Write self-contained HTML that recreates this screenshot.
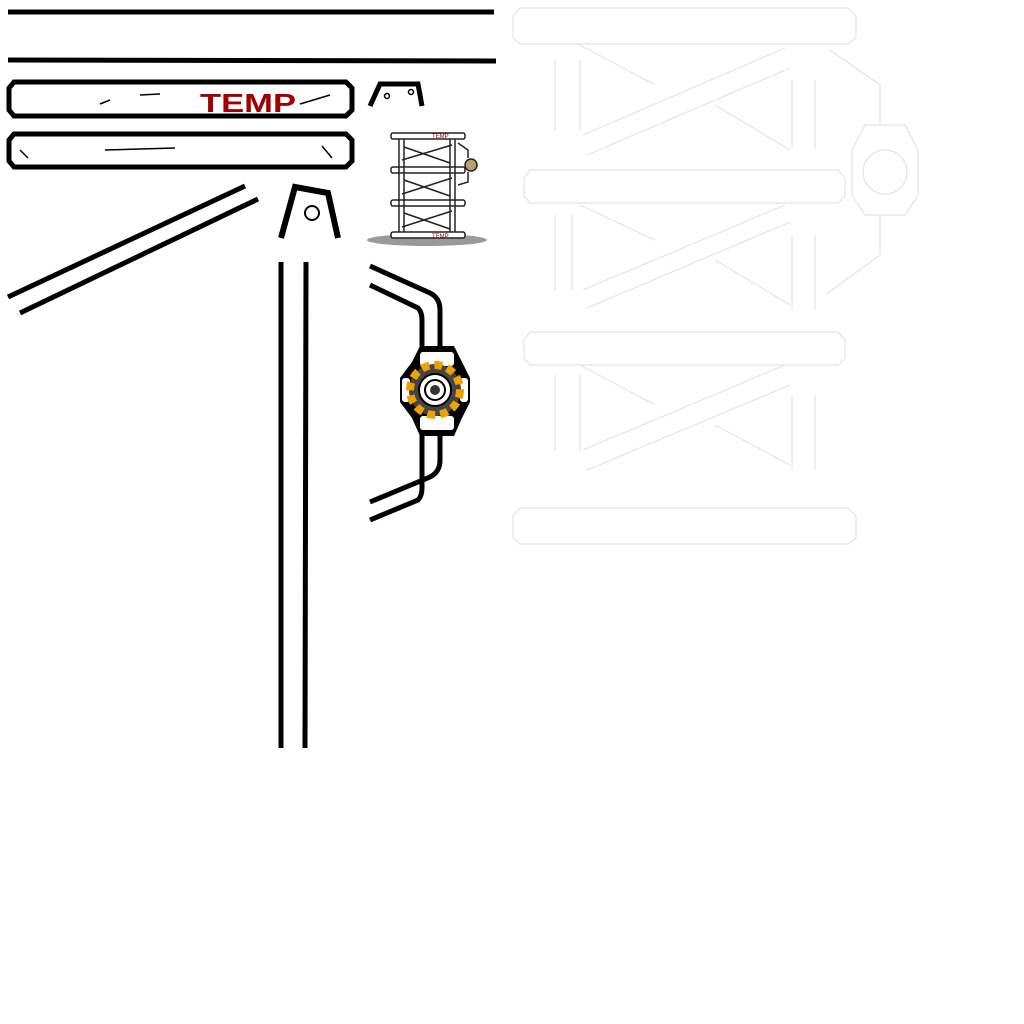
<!DOCTYPE html>
<html><head><style>html,body{margin:0;padding:0;background:#fff;width:1024px;height:1024px;overflow:hidden}</style></head>
<body>
<svg width="1024" height="1024" viewBox="0 0 1024 1024" xmlns="http://www.w3.org/2000/svg">
<rect width="1024" height="1024" fill="#fff"/>
<line x1="8" y1="12" x2="494" y2="12" stroke="#000" stroke-width="5"/>
<line x1="8" y1="60" x2="496" y2="61" stroke="#000" stroke-width="5"/>
<polygon points="14,82 346,82 352,88 352,110 346,116 14,116 9,110 9,88" fill="#fff" stroke="#000" stroke-width="5"/>
<line x1="100" y1="104" x2="110" y2="100" stroke="#000" stroke-width="1.5"/>
<line x1="140" y1="95" x2="160" y2="94" stroke="#000" stroke-width="1.5"/>
<line x1="300" y1="104" x2="330" y2="95" stroke="#000" stroke-width="1.5"/>
<text x="200" y="112" font-family="Liberation Sans, sans-serif" font-size="26" font-weight="bold" fill="#a00000" textLength="96" lengthAdjust="spacingAndGlyphs">TEMP</text>
<polygon points="14,134 346,134 352,140 352,161 346,167 14,167 9,161 9,140" fill="#fff" stroke="#000" stroke-width="5"/>
<line x1="105" y1="150" x2="175" y2="148" stroke="#000" stroke-width="1.5"/>
<line x1="20" y1="150" x2="28" y2="158" stroke="#000" stroke-width="1.5"/>
<line x1="322" y1="146" x2="332" y2="158" stroke="#000" stroke-width="1.5"/>
<path d="M370,106 L380,84 L418,84 L422,106" fill="none" stroke="#000" stroke-width="5"/>
<circle cx="387" cy="96" r="2.5" fill="none" stroke="#000" stroke-width="1.5"/>
<circle cx="411" cy="92" r="2.5" fill="none" stroke="#000" stroke-width="1.5"/>
<line x1="8" y1="297" x2="245" y2="186" stroke="#000" stroke-width="5"/>
<line x1="20" y1="313" x2="258" y2="199" stroke="#000" stroke-width="5"/>
<path d="M281,238 L295,187 L328,193 L338,238" fill="none" stroke="#000" stroke-width="6"/>
<circle cx="312" cy="213" r="7" fill="none" stroke="#000" stroke-width="2"/>
<line x1="281" y1="262" x2="281" y2="748" stroke="#000" stroke-width="5"/>
<line x1="306" y1="262" x2="305" y2="748" stroke="#000" stroke-width="5"/>
<path d="M370,266 L430,293 Q440,298 440,310 L440,350" fill="none" stroke="#000" stroke-width="5"/>
<path d="M370,285 L418,308 Q422,312 422,320 L422,350" fill="none" stroke="#000" stroke-width="5"/>
<path d="M370,502 L430,477 Q440,472 440,460 L440,430" fill="none" stroke="#000" stroke-width="5"/>
<path d="M370,520 L418,500 Q422,496 422,488 L422,430" fill="none" stroke="#000" stroke-width="5"/>
<polygon points="420,346 454,346 462,362 470,378 470,402 462,418 454,436 420,436 412,418 400,402 400,378 412,362" fill="#000"/>
<rect x="420" y="352" width="34" height="14" rx="3" fill="#fff"/>
<rect x="420" y="416" width="34" height="14" rx="3" fill="#fff"/>
<rect x="402" y="378" width="8" height="24" rx="3" fill="#fff"/>
<rect x="460" y="378" width="8" height="24" rx="3" fill="#fff"/>
<circle cx="435" cy="390" r="26" fill="#444"/>
<circle cx="435" cy="390" r="25" fill="none" stroke="#f0a000" stroke-width="8" stroke-dasharray="8 5"/>
<circle cx="435" cy="390" r="16" fill="#fff" stroke="#000" stroke-width="2"/>
<circle cx="435" cy="390" r="10" fill="#fff" stroke="#000" stroke-width="2"/>
<circle cx="435" cy="390" r="5" fill="#333"/>
<ellipse cx="427" cy="240" rx="60" ry="6" fill="#999"/>
<g fill="#fff" stroke="#222" stroke-width="1.5">
<rect x="391" y="133" width="74" height="6" rx="2"/>
<rect x="391" y="167" width="74" height="6" rx="2"/>
<rect x="391" y="200" width="74" height="6" rx="2"/>
<rect x="391" y="232" width="74" height="6" rx="2"/>
<line x1="399" y1="139" x2="399" y2="232"/><line x1="455" y1="139" x2="455" y2="232"/>
<line x1="404" y1="139" x2="404" y2="232"/><line x1="450" y1="139" x2="450" y2="232"/>
<line x1="402" y1="160" x2="452" y2="145"/><line x1="404" y1="147" x2="450" y2="163"/>
<line x1="402" y1="194" x2="452" y2="178"/><line x1="404" y1="180" x2="450" y2="196"/>
<line x1="402" y1="227" x2="452" y2="211"/><line x1="404" y1="213" x2="450" y2="229"/>
<circle cx="471" cy="165" r="6" fill="#b9a070"/>
<path d="M458,143 L468,150 L468,158 M468,172 L468,182 L458,185" fill="none"/>
</g>
<text x="432" y="138" font-family="Liberation Sans, sans-serif" font-size="6" fill="#a00000">TEMP</text>
<text x="432" y="238" font-family="Liberation Sans, sans-serif" font-size="6" fill="#a00000">TEMP</text>
<g fill="none" stroke="#e4e4e4" stroke-width="1.2">
<polygon points="520,8 848,8 856,16 856,38 848,44 520,44 513,38 513,16"/>
<polygon points="530,170 838,170 845,178 845,196 838,203 530,203 524,196 524,178"/>
<polygon points="530,332 838,332 845,340 845,358 838,365 530,365 524,358 524,340"/>
<polygon points="520,508 848,508 856,516 856,538 848,544 520,544 513,538 513,516"/>
<line x1="555" y1="60" x2="555" y2="130"/><line x1="580" y1="60" x2="580" y2="130"/>
<line x1="555" y1="215" x2="555" y2="290"/><line x1="572" y1="215" x2="572" y2="290"/>
<line x1="555" y1="375" x2="555" y2="450"/><line x1="580" y1="375" x2="580" y2="450"/>
<line x1="792" y1="80" x2="792" y2="148"/><line x1="815" y1="80" x2="815" y2="148"/>
<line x1="792" y1="235" x2="792" y2="310"/><line x1="815" y1="235" x2="815" y2="310"/>
<line x1="792" y1="395" x2="792" y2="470"/><line x1="815" y1="395" x2="815" y2="470"/>
<line x1="583" y1="135" x2="785" y2="48"/><line x1="587" y1="155" x2="790" y2="68"/>
<line x1="583" y1="290" x2="785" y2="205"/><line x1="587" y1="308" x2="790" y2="222"/>
<line x1="583" y1="450" x2="785" y2="365"/><line x1="587" y1="470" x2="790" y2="385"/>
<line x1="580" y1="45" x2="655" y2="85"/><line x1="715" y1="105" x2="790" y2="150"/>
<line x1="580" y1="205" x2="655" y2="240"/><line x1="715" y1="260" x2="790" y2="305"/>
<line x1="580" y1="365" x2="655" y2="405"/><line x1="715" y1="425" x2="790" y2="465"/>
<polygon points="865,125 905,125 918,150 918,195 905,215 865,215 852,195 852,150"/>
<circle cx="885" cy="172" r="22"/>
<path d="M830,50 L880,85 L880,125 M880,215 L880,255 L825,295"/>
</g>
</svg>
</body></html>
